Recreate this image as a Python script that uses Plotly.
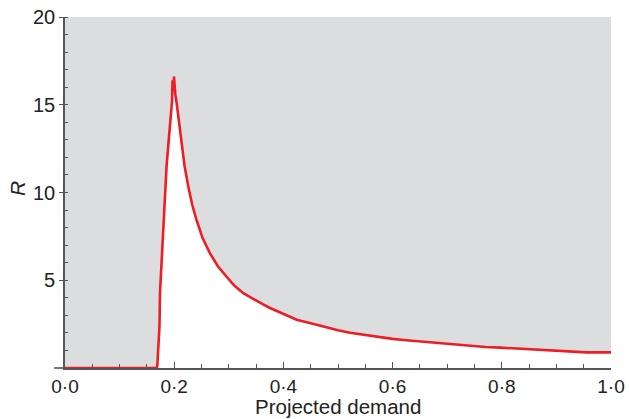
import plotly.graph_objects as go

demand = [0, 0.168, 0.169, 0.171, 0.173, 0.174, 0.177, 0.180, 0.183, 0.186, 0.190, 0.1935,
          0.196, 0.197, 0.1985, 0.1996, 0.2005, 0.202, 0.2045, 0.209, 0.2137, 0.219, 0.2259,
          0.233, 0.241, 0.252, 0.2656, 0.28, 0.296, 0.31, 0.3266, 0.345, 0.363, 0.3755, 0.394,
          0.4243, 0.45, 0.473, 0.50, 0.522, 0.55, 0.571, 0.60, 0.62, 0.65, 0.668, 0.70, 0.7357,
          0.77, 0.797, 0.83, 0.857, 0.88, 0.90, 0.93, 0.955, 0.98, 1.0]
r_values = [0, 0, 0.1, 1.0, 2.35, 4.27, 6.3, 8.05, 10.0, 11.5, 13.0, 14.1,
            15.2, 16.4, 15.8, 16.6, 16.0, 15.6, 15.1, 14.0, 12.8, 11.5, 10.33,
            9.3, 8.43, 7.4, 6.53, 5.8, 5.2, 4.7, 4.26, 3.92, 3.62, 3.42, 3.15,
            2.75, 2.55, 2.36, 2.15, 2.01, 1.88, 1.78, 1.66, 1.6, 1.52, 1.46, 1.38, 1.27,
            1.2, 1.16, 1.1, 1.06, 1.02, 0.99, 0.94, 0.89, 0.89, 0.89]

x_tickvals = [0.0, 0.2, 0.4, 0.6, 0.8, 1.0]
x_ticktext = ["0·0", "0·2", "0·4", "0·6", "0·8", "1·0"]
y_tickvals = [5, 10, 15, 20]
y_ticktext = ["5", "10", "15", "20"]

red = "#EE1D24"
gray_bg = "#DCDDDF"
axis_col = "#555555"
font_family = "Liberation Sans, Arial, sans-serif"

fig = go.Figure()
fig.add_trace(go.Scatter(x=demand, y=r_values, mode="lines",
                         line=dict(color=red, width=2.6),
                         fill="tozeroy", fillcolor="white", hoverinfo="skip"))

fig.update_layout(
    width=629, height=419,
    margin=dict(l=65, r=18, t=17, b=51),
    paper_bgcolor="white", plot_bgcolor=gray_bg,
    showlegend=False,
    font=dict(family=font_family, size=20, color="#222222"),
    xaxis=dict(range=[0, 1], tickvals=x_tickvals, ticktext=x_ticktext,
               automargin=False,
               showgrid=False, zeroline=False,
               showline=True, linecolor=axis_col, linewidth=1.6,
               ticks="inside", ticklen=6, tickwidth=1.2, tickcolor=axis_col,
               minor=dict(dtick=0.05, ticks="inside", ticklen=4, tickwidth=1, tickcolor=axis_col,
                          showgrid=False),
               tickfont=dict(size=19)),
    yaxis=dict(range=[0, 20], tickvals=y_tickvals, ticktext=y_ticktext,
               automargin=False,
               showgrid=False, zeroline=False,
               showline=True, linecolor=axis_col, linewidth=1.6,
               ticks="outside", ticklen=4, tickwidth=1.2, tickcolor=axis_col,
               minor=dict(dtick=1, ticks="inside", ticklen=3, tickwidth=1, tickcolor=axis_col,
                          showgrid=False),
               tickfont=dict(size=20)),
    annotations=[
        dict(text="<i>R</i>", xref="paper", yref="paper", x=-0.086, y=0.51,
             xanchor="center", yanchor="middle", textangle=-90, showarrow=False,
             font=dict(size=21)),
        dict(text="Projected demand", xref="paper", yref="paper", x=0.5, y=-51 / 351,
             xanchor="center", yanchor="bottom", yshift=0, showarrow=False,
             borderpad=0, font=dict(size=20.5)),
    ],
    shapes=[dict(type="line", xref="paper", yref="paper", x0=-0.02, x1=0, y0=0, y1=0,
                 line=dict(color=axis_col, width=1.6))],
)

fig.write_html("out.html", config={"displayModeBar": False},
               post_script="document.body.style.margin='0';document.body.style.overflow='hidden';")
